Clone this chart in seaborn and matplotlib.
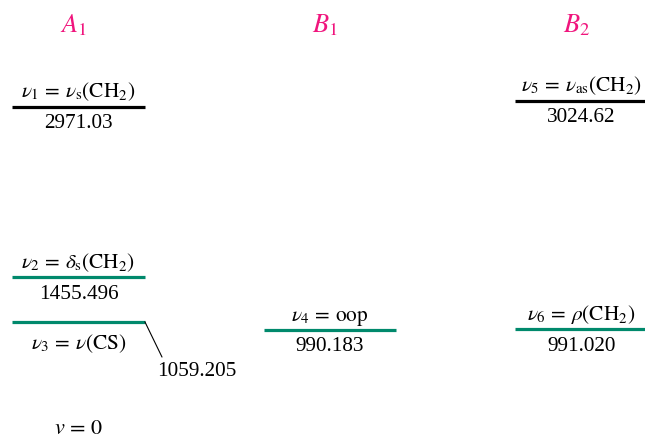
import numpy as np
import pandas as pd
import matplotlib
matplotlib.use("Agg")
import matplotlib.pyplot as plt
import seaborn as sns

# ---- data ----
symmetries = ["A_1", "B_1", "B_2"]
mode_symmetry = ["A_1", "A_1", "A_1", "B_1", "B_2", "B_2"]
mode_labels = [r"$\nu_1\,=\,\nu_{\rm s}(\mathrm{CH_2})$",
               r"$\nu_2\,=\,\delta_{\rm s}(\mathrm{CH_2})$",
               r"$\nu_3\,=\,\nu(\mathrm{CS})$",
               r"$\nu_4\,=\,\mathrm{oop}$",
               r"$\nu_5\,=\,\nu_{\rm as}(\mathrm{CH_2})$",
               r"$\nu_6\,=\,\rho(\mathrm{CH_2})$"]
wavenumbers = [2971.03, 1455.496, 1059.205, 990.183, 3024.62, 991.020]
number_labels = ["2971.03", "1455.496", "1059.205", "990.183", "3024.62", "991.020"]
level_kind = ["stretch", "other", "other", "other", "stretch", "other"]
ground_label = r"$v\,=\,0$"

sns.set_theme(style="white")
plt.rcParams["font.family"] = ["Liberation Serif", "DejaVu Serif"]
plt.rcParams["mathtext.fontset"] = "stix"
plt.rcParams["text.color"] = "black"

fig = plt.figure(figsize=(6.45, 4.41), dpi=100)
ax = fig.add_axes([0, 0, 1, 1])

col = {s: i for i, s in enumerate(symmetries)}
half = 0.264
rows = []
for i, (s, e, k) in enumerate(zip(mode_symmetry, wavenumbers, level_kind)):
    c = col[s]
    rows.append(dict(level=i, x=c - half, E=e, kind=k))
    rows.append(dict(level=i, x=c + half, E=e, kind=k))
df = pd.DataFrame(rows)

sns.lineplot(data=df, x="x", y="E", units="level", estimator=None, hue="kind",
             palette={"stretch": "black", "other": "#00896C"}, linewidth=2.3,
             legend=False, ax=ax, solid_capstyle="butt")

ax.set_xlim(-0.312, 2.252)
ax.set_ylim(0, 3919)
ax.axis("off")

fs = 15.3
for i, (s, e, lab, num) in enumerate(zip(mode_symmetry, wavenumbers, mode_labels, number_labels)):
    c = col[s]
    if i == 2:
        ax.annotate(lab, xy=(c, e), xytext=(0, -19.7), textcoords="offset points",
                    ha="center", va="baseline", fontsize=fs, color="black")
        ax.plot([c + half, c + half + 0.068], [e, 746], color="black", lw=0.8)
        ax.text(c + half + 0.048, 578, num, ha="left", va="baseline", fontsize=fs,
                color="black")
    else:
        ax.annotate(lab, xy=(c, e), xytext=(0, 6.5), textcoords="offset points",
                    ha="center", va="baseline", fontsize=fs, color="black")
        ax.annotate(num, xy=(c, e), xytext=(0, -15.6), textcoords="offset points",
                    ha="center", va="baseline", fontsize=fs, color="black")

for s in symmetries:
    ax.text(col[s] - 0.02, 3627, f"${s}$", ha="center", va="baseline",
            fontsize=19, color="#F0157D")

ax.text(0, 63, ground_label, ha="center", va="baseline", fontsize=16, color="black")

fig.savefig("out.png", dpi=100)
